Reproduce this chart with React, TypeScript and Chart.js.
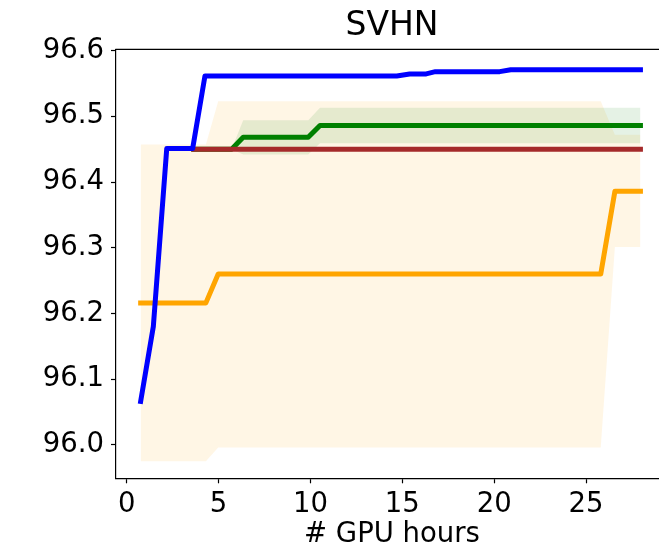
import React, { useEffect, useRef } from "react";
import { Chart, registerables } from "chart.js";

Chart.register(...registerables);

const chartTitle = "SVHN";
const xAxisTitle = "# GPU hours";
const xTickValues = [0, 5, 10, 15, 20, 25];
const yTickValues = [96.0, 96.1, 96.2, 96.3, 96.4, 96.5, 96.6];

const blueX = [0.76, 1.45, 2.18, 3.59, 4.26, 14.7, 15.4, 16.3, 16.8, 20.3, 20.9, 27.96];
const blueY = [96.066, 96.18, 96.451, 96.451, 96.5615, 96.5615, 96.5645, 96.5645, 96.568, 96.568, 96.571, 96.571];

const brownX = [3.65, 27.96];
const brownY = [96.45, 96.45];

const greenX = [3.65, 5.71, 6.34, 9.88, 10.52, 27.96];
const greenY = [96.45, 96.45, 96.468, 96.468, 96.486, 96.486];
const greenLow = [96.45, 96.45, 96.442, 96.442, 96.459, 96.459];
const greenHigh = [96.45, 96.45, 96.494, 96.494, 96.513, 96.513];

const orangeX = [0.76, 4.31, 4.98, 25.8, 26.57, 27.96];
const orangeY = [96.216, 96.216, 96.26, 96.26, 96.386, 96.386];
const orangeLow = [95.975, 95.975, 95.996, 95.996, 96.301, 96.301];
const orangeHigh = [96.457, 96.457, 96.523, 96.523, 96.472, 96.472];

const pts = (xs: number[], ys: number[]) => xs.map((x, i) => ({ x, y: ys[i] }));

const FONT = "'DejaVu Sans', sans-serif";

const topSpine = {
  id: "topSpine",
  afterDraw(chart: any) {
    const { ctx, chartArea } = chart;
    ctx.save();
    ctx.strokeStyle = "#000";
    ctx.lineWidth = 1.2;
    ctx.beginPath();
    ctx.moveTo(chartArea.left - 0.6, chartArea.top);
    ctx.lineTo(chart.width, chartArea.top);
    ctx.stroke();
    ctx.restore();
  },
};

export default function App() {
  const ref = useRef<HTMLCanvasElement>(null);

  useEffect(() => {
    if (!ref.current) return;
    const line = (data: any, color: string) => ({
      data,
      borderColor: color,
      backgroundColor: color,
      borderWidth: 5,
      pointRadius: 0,
      tension: 0,
      fill: false,
      borderCapStyle: "square" as const,
      borderJoinStyle: "round" as const,
    });
    const bandEdge = (data: any, fill: any, bg: string) => ({
      data,
      borderWidth: 0,
      borderColor: "rgba(0,0,0,0)",
      backgroundColor: bg,
      pointRadius: 0,
      tension: 0,
      fill,
    });
    const chart = new Chart(ref.current, {
      type: "line",
      data: {
        datasets: [
          line(pts(blueX, blueY), "#0000ff"),
          line(pts(brownX, brownY), "#a52a2a"),
          line(pts(greenX, greenY), "#008000"),
          line(pts(orangeX, orangeY), "#ffa500"),
          bandEdge(pts(greenX, greenHigh), "+1", "rgba(0,128,0,0.1)"),
          bandEdge(pts(greenX, greenLow), false, "rgba(0,128,0,0.1)"),
          bandEdge(pts(orangeX, orangeHigh), "+1", "rgba(255,165,0,0.1)"),
          bandEdge(pts(orangeX, orangeLow), false, "rgba(255,165,0,0.1)"),
        ] as any,
      },
      options: {
        animation: false,
        responsive: false,
        devicePixelRatio: 1,
        layout: { padding: { left: 0, right: 2, top: 0, bottom: 0 } },
        plugins: {
          legend: { display: false },
          tooltip: { enabled: false },
          title: {
            display: true,
            text: chartTitle,
            fullSize: false,
            color: "#000",
            font: { family: FONT, size: 33, weight: "normal" },
            padding: { top: 6.2, bottom: 3.5 },
          },
        },
        scales: {
          x: {
            type: "linear",
            min: -0.582,
            max: 29.46,
            afterFit: (s: any) => {
              s.height = 75.7;
            },
            afterBuildTicks: (s: any) => {
              s.ticks = xTickValues.map((v) => ({ value: v }));
            },
            ticks: {
              color: "#000",
              font: { family: FONT, size: 27.5 },
              padding: 5,
              maxRotation: 0,
              callback: (v: any) => String(v),
            },
            grid: {
              display: true,
              drawOnChartArea: false,
              drawTicks: true,
              tickLength: 5,
              tickWidth: 1.2,
              tickColor: "#000",
            },
            border: { display: true, color: "#000", width: 1.2 },
            title: {
              display: true,
              text: xAxisTitle,
              color: "#000",
              font: { family: FONT, size: 27.5 },
              padding: { top: 0, bottom: 2.5 },
            },
          },
          y: {
            type: "linear",
            min: 95.949,
            max: 96.602,
            afterFit: (s: any) => {
              s.width = 116;
            },
            afterBuildTicks: (s: any) => {
              s.ticks = yTickValues.map((v) => ({ value: v }));
            },
            ticks: {
              color: "#000",
              font: { family: FONT, size: 27.5 },
              padding: 7,
              callback: (v: any) => Number(v).toFixed(1),
            },
            grid: {
              display: true,
              drawOnChartArea: false,
              drawTicks: true,
              tickLength: 5,
              tickWidth: 1.2,
              tickColor: "#000",
            },
            border: { display: true, color: "#000", width: 1.2 },
          },
        },
      },
      plugins: [topSpine],
    });
    return () => chart.destroy();
  }, []);

  return (
    <div
      style={{
        position: "fixed",
        left: 0,
        top: 0,
        width: 659,
        height: 554,
        overflow: "hidden",
        background: "#fff",
      }}
    >
      <canvas ref={ref} width={670} height={554} style={{ display: "block" }} />
    </div>
  );
}
